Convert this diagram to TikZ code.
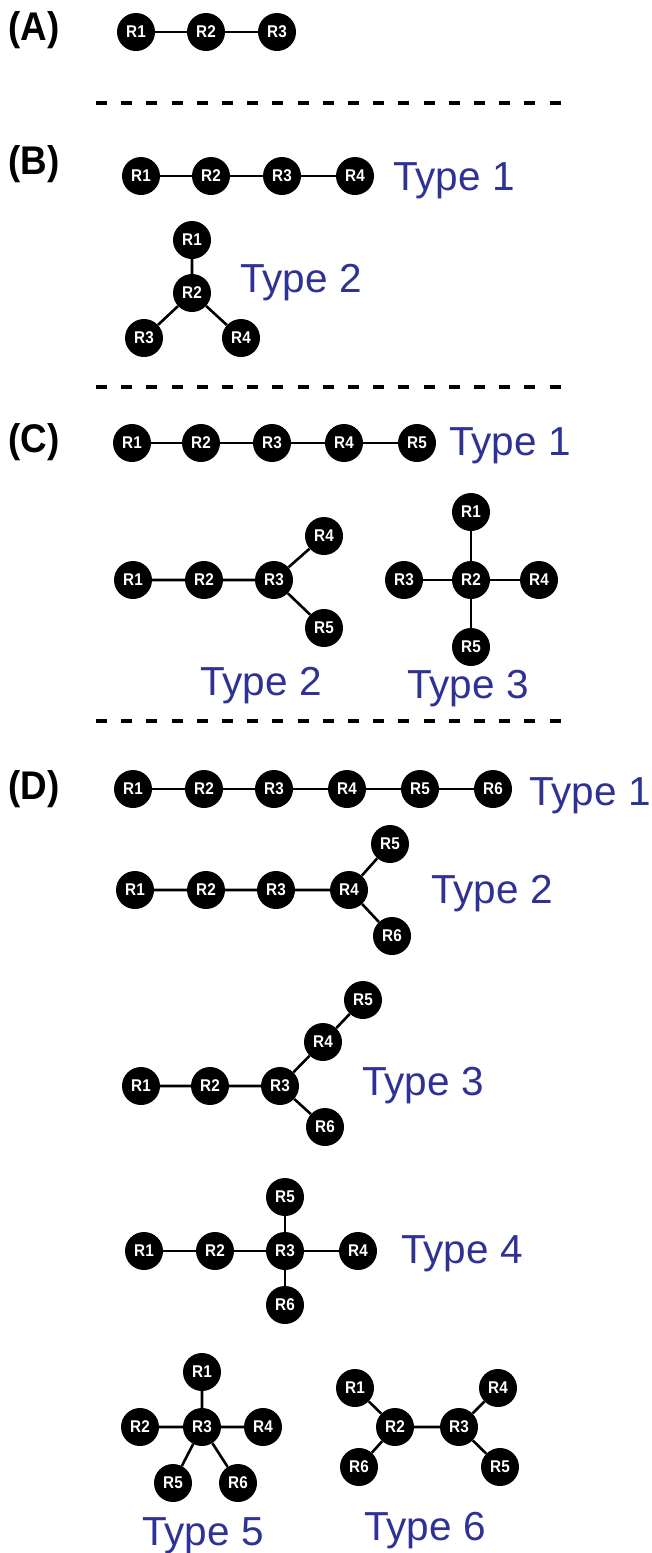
\documentclass[tikz,border=0pt]{standalone}
\usepackage{fontspec}
\setmainfont{Liberation Sans}
\newfontfamily\rnodefont[FakeStretch=0.9]{Liberation Sans}
\newfontfamily\plabelfont[FakeStretch=0.92]{Liberation Sans}
\definecolor{typeblue}{RGB}{46,50,148}
\begin{document}
\begin{tikzpicture}[x=1pt,y=-1pt,
  rn/.style={circle,fill=black,minimum size=38pt,inner sep=0pt,text=white,
    font=\rnodefont\bfseries\fontsize{17}{17}\selectfont},
  bond/.style={line width=2.6pt},
  sep/.style={line width=3.5pt,dash pattern=on 11pt off 14.2pt},
  tlabel/.style={anchor=base west,inner sep=0pt,text=typeblue,font=\fontsize{40.5}{42}\selectfont},
  plabel/.style={anchor=base west,inner sep=0pt,font=\plabelfont\bfseries\fontsize{40}{42}\selectfont}]
\useasboundingbox (0,0) rectangle (651,1553);
\fill[white] (0,0) rectangle (651,1553);

% separators
\coordinate (s1a) at (96,103); \coordinate (s1b) at (561,103);
\coordinate (s2a) at (96,387); \coordinate (s2b) at (561,387);
\coordinate (s3a) at (96,721); \coordinate (s3b) at (561,721);
\draw[sep] (s1a) -- (s1b);
\draw[sep] (s2a) -- (s2b);
\draw[sep] (s3a) -- (s3b);

% (A)
\node[plabel] (lA) at (8,40) {(A)};
\node[rn] (a1) at (136,32) {R1};
\node[rn] (a2) at (206,32) {R2};
\node[rn] (a3) at (277,32) {R3};
\draw[bond] (a1) -- (a2) (a2) -- (a3);

% (B)
\node[plabel] (lB) at (8,174) {(B)};
\node[rn] (b11) at (141,176) {R1};
\node[rn] (b12) at (211,176) {R2};
\node[rn] (b13) at (282,176) {R3};
\node[rn] (b14) at (355,176) {R4};
\draw[bond] (b11) -- (b12) (b12) -- (b13) (b13) -- (b14);
\node[tlabel] (tb1) at (393,190) {Type 1};

\node[rn] (b21) at (192,240) {R1};
\node[rn] (b22) at (192,293) {R2};
\node[rn] (b23) at (144,338) {R3};
\node[rn] (b24) at (241,338) {R4};
\draw[bond] (b21) -- (b22) (b22) -- (b23) (b22) -- (b24);
\node[tlabel] (tb2) at (240,292) {Type 2};

% (C)
\node[plabel] (lC) at (8,452) {(C)};
\node[rn] (c11) at (132,443) {R1};
\node[rn] (c12) at (201,443) {R2};
\node[rn] (c13) at (272,443) {R3};
\node[rn] (c14) at (344,443) {R4};
\node[rn] (c15) at (417,443) {R5};
\draw[bond] (c11) -- (c12) (c12) -- (c13) (c13) -- (c14) (c14) -- (c15);
\node[tlabel] (tc1) at (449,455) {Type 1};

\node[rn] (c21) at (133,580) {R1};
\node[rn] (c22) at (204,580) {R2};
\node[rn] (c23) at (274,580) {R3};
\node[rn] (c24) at (324,536) {R4};
\node[rn] (c25) at (324,628) {R5};
\draw[bond] (c21) -- (c22) (c22) -- (c23) (c23) -- (c24) (c23) -- (c25);
\node[tlabel] (tc2) at (200,695) {Type 2};

\node[rn] (c31) at (471,512) {R1};
\node[rn] (c32) at (471,580) {R2};
\node[rn] (c33) at (404,580) {R3};
\node[rn] (c34) at (539,580) {R4};
\node[rn] (c35) at (471,647) {R5};
\draw[bond] (c31) -- (c32) (c32) -- (c33) (c32) -- (c34) (c32) -- (c35);
\node[tlabel] (tc3) at (407,698) {Type 3};

% (D)
\node[plabel] (lD) at (8,799) {(D)};
\node[rn] (d11) at (133,789) {R1};
\node[rn] (d12) at (204,789) {R2};
\node[rn] (d13) at (274,789) {R3};
\node[rn] (d14) at (347,789) {R4};
\node[rn] (d15) at (420,789) {R5};
\node[rn] (d16) at (493,789) {R6};
\draw[bond] (d11) -- (d12) (d12) -- (d13) (d13) -- (d14) (d14) -- (d15) (d15) -- (d16);
\node[tlabel] (td1) at (529,805) {Type 1};

\node[rn] (d21) at (135,890) {R1};
\node[rn] (d22) at (206,890) {R2};
\node[rn] (d23) at (276,890) {R3};
\node[rn] (d24) at (349,890) {R4};
\node[rn] (d25) at (390,844) {R5};
\node[rn] (d26) at (392,936) {R6};
\draw[bond] (d21) -- (d22) (d22) -- (d23) (d23) -- (d24) (d24) -- (d25) (d24) -- (d26);
\node[tlabel] (td2) at (431,903) {Type 2};

\node[rn] (d31) at (141,1086) {R1};
\node[rn] (d32) at (210,1086) {R2};
\node[rn] (d33) at (280,1086) {R3};
\node[rn] (d34) at (323,1042) {R4};
\node[rn] (d35) at (363,1000) {R5};
\node[rn] (d36) at (325,1127) {R6};
\draw[bond] (d31) -- (d32) (d32) -- (d33) (d33) -- (d34) (d34) -- (d35) (d33) -- (d36);
\node[tlabel] (td3) at (362,1095) {Type 3};

\node[rn] (d41) at (144,1251) {R1};
\node[rn] (d42) at (215,1251) {R2};
\node[rn] (d43) at (285,1251) {R3};
\node[rn] (d44) at (358,1251) {R4};
\node[rn] (d45) at (285,1197) {R5};
\node[rn] (d46) at (285,1305) {R6};
\draw[bond] (d41) -- (d42) (d42) -- (d43) (d43) -- (d44) (d43) -- (d45) (d43) -- (d46);
\node[tlabel] (td4) at (401,1263) {Type 4};

\node[rn] (d51) at (202,1372) {R1};
\node[rn] (d52) at (140,1427) {R2};
\node[rn] (d53) at (202,1427) {R3};
\node[rn] (d54) at (263,1427) {R4};
\node[rn] (d55) at (173,1483) {R5};
\node[rn] (d56) at (238,1483) {R6};
\draw[bond] (d51) -- (d53) (d52) -- (d53) (d53) -- (d54) (d53) -- (d55) (d53) -- (d56);
\node[tlabel] (td5) at (142,1545) {Type 5};

\node[rn] (d61) at (355,1388) {R1};
\node[rn] (d62) at (395,1427) {R2};
\node[rn] (d63) at (459,1427) {R3};
\node[rn] (d64) at (498,1388) {R4};
\node[rn] (d65) at (500,1467) {R5};
\node[rn] (d66) at (359,1467) {R6};
\draw[bond] (d61) -- (d62) (d62) -- (d63) (d63) -- (d64) (d63) -- (d65) (d62) -- (d66);
\node[tlabel] (td6) at (364,1540) {Type 6};
\end{tikzpicture}
\end{document}
